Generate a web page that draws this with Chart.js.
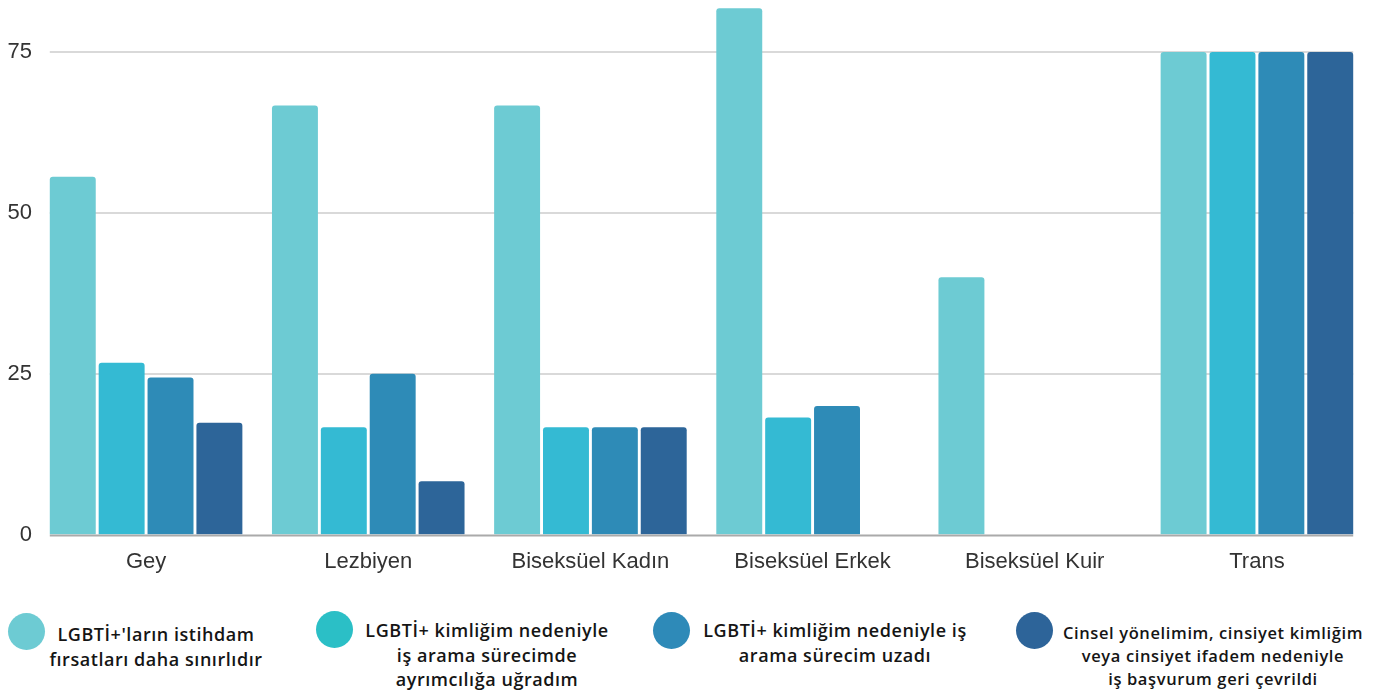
<!DOCTYPE html>
<html>
<head>
<meta charset="utf-8">
<script src="https://cdn.jsdelivr.net/npm/chart.js@4/dist/chart.umd.min.js"></script>
<style>
  html, body { margin: 0; padding: 0; background: #fff; }
  #wrap { position: relative; width: 1379px; height: 693px; }
  #chartBox { position: absolute; left: 0; top: 0; width: 1379px; height: 589px; }
  .leg { position: absolute; font-family: "Open Sans", sans-serif; font-weight: 600; color: #151515; text-align: center; }
  .dot { position: absolute; width: 37px; height: 37px; border-radius: 50%; }
  .txt { position: absolute; white-space: nowrap; transform: translateX(-50%); font-size: 18px; line-height: 24.5px; letter-spacing: 0.55px; }
</style>
</head>
<body>
<div id="wrap">
  <div id="chartBox"><canvas id="c"></canvas></div>
  <div id="legend"></div>
</div>
<script>
const categories = ["Gey", "Lezbiyen", "Biseksüel Kadın", "Biseksüel Erkek", "Biseksüel Kuir", "Trans"];
const seriesNames = [
  "LGBTİ+'ların istihdam fırsatları daha sınırlıdır",
  "LGBTİ+ kimliğim nedeniyle iş arama sürecimde ayrımcılığa uğradım",
  "LGBTİ+ kimliğim nedeniyle iş arama sürecim uzadı",
  "Cinsel yönelimim, cinsiyet kimliğim veya cinsiyet ifadem nedeniyle iş başvurum geri çevrildi"
];
const legendLines = [
  ["LGBTİ+'ların istihdam", "fırsatları daha sınırlıdır"],
  ["LGBTİ+ kimliğim nedeniyle", "iş arama sürecimde", "ayrımcılığa uğradım"],
  ["LGBTİ+ kimliğim nedeniyle iş", "arama sürecim uzadı"],
  ["Cinsel yönelimim, cinsiyet kimliğim", "veya cinsiyet ifadem nedeniyle", "iş başvurum geri çevrildi"]
];
const series1 = [55.6, 66.7, 66.7, 81.8, 40, 75];
const series2 = [26.7, 16.7, 16.7, 18.2, 0, 75];
const series3 = [24.4, 25, 16.7, 20, 0, 75];
const series4 = [17.4, 8.3, 16.7, 0, 0, 75];
const yTicks = [0, 25, 50, 75];
const barColors = ["#6DCBD3", "#34BAD3", "#2E8BB7", "#2D6599"];
const legendColors = ["#6DCBD3", "#2BBFC6", "#2E8AB8", "#2D6499"];

const allSeries = [series1, series2, series3, series4];

const gridPlugin = {
  id: 'customGrid',
  extentX(chart) {
    const first = chart.getDatasetMeta(0).data[0];
    const lastMeta = chart.getDatasetMeta(chart.data.datasets.length - 1);
    const last = lastMeta.data[lastMeta.data.length - 1];
    return [first.x - first.width / 2, last.x + last.width / 2];
  },
  beforeDatasetsDraw(chart) {
    const ctx = chart.ctx, y = chart.scales.y;
    const [x0, x1] = this.extentX(chart);
    ctx.save();
    ctx.strokeStyle = "#d9d9d9";
    ctx.lineWidth = 2;
    yTicks.forEach(v => {
      if (v === 0) return;
      const py = Math.round(y.getPixelForValue(v));
      ctx.beginPath(); ctx.moveTo(x0, py); ctx.lineTo(x1, py); ctx.stroke();
    });
    ctx.restore();
  },
  afterDatasetsDraw(chart) {
    const ctx = chart.ctx, y = chart.scales.y;
    const [x0, x1] = this.extentX(chart);
    const py = y.getPixelForValue(0) + 1;
    ctx.save();
    ctx.strokeStyle = "#aaaaaa";
    ctx.lineWidth = 2;
    ctx.beginPath(); ctx.moveTo(x0, py); ctx.lineTo(x1, py); ctx.stroke();
    ctx.restore();
  }
};

new Chart(document.getElementById('c'), {
  type: 'bar',
  data: {
    labels: categories,
    datasets: allSeries.map((s, i) => ({
      label: seriesNames[i],
      data: s,
      backgroundColor: barColors[i],
      borderRadius: 3,
      borderSkipped: 'start',
      categoryPercentage: 0.88,
      barPercentage: 0.94
    }))
  },
  options: {
    responsive: true,
    maintainAspectRatio: false,
    animation: false,
    layout: { padding: { top: 7, right: 11, left: 0, bottom: 0 } },
    plugins: { legend: { display: false }, tooltip: { enabled: false } },
    scales: {
      x: {
        grid: { display: false, drawTicks: false },
        border: { display: false },
        ticks: { color: "#333", font: { family: "Liberation Sans, Arial, sans-serif", size: 22 }, padding: 14 }
      },
      y: {
        min: 0, max: 82,
        grid: { display: false, drawTicks: false },
        border: { display: false },
        afterBuildTicks(axis) { axis.ticks = yTicks.map(v => ({ value: v })); },
        afterFit(axis) { axis.width = 35; axis.paddingTop = 0; axis.paddingBottom = 0; },
        ticks: { color: "#333", font: { family: "Liberation Sans, Arial, sans-serif", size: 22 }, padding: 3 }
      }
    }
  },
  plugins: [gridPlugin]
});

// HTML legend
const legendPos = [
  { dot: [8, 613], txt: [156, 622] },
  { dot: [316, 611], txt: [487, 618] },
  { dot: [653, 612], txt: [835, 618] },
  { dot: [1016, 612], txt: [1213, 621], size: 16.5, lh: 23, ls: 0.62 }
];
const legendEl = document.getElementById('legend');
legendLines.forEach((lines, i) => {
  const p = legendPos[i];
  const d = document.createElement('div');
  d.className = 'leg dot';
  d.style.left = p.dot[0] + 'px'; d.style.top = p.dot[1] + 'px';
  d.style.background = legendColors[i];
  legendEl.appendChild(d);
  const t = document.createElement('div');
  t.className = 'leg txt';
  t.style.left = p.txt[0] + 'px'; t.style.top = p.txt[1] + 'px';
  if (p.size) { t.style.fontSize = p.size + 'px'; t.style.lineHeight = p.lh + 'px'; t.style.letterSpacing = p.ls + 'px'; }
  t.innerHTML = lines.map(l => l.replace(/&/g, '&amp;').replace(/</g, '&lt;')).join('<br>');
  legendEl.appendChild(t);
});
</script>
</body>
</html>
